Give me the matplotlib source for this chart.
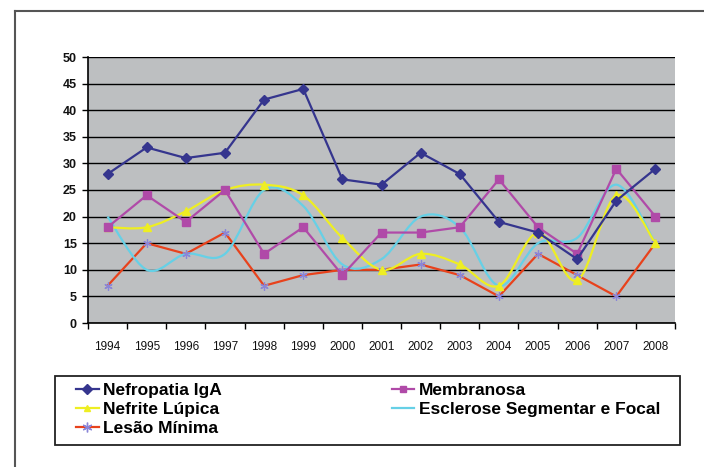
import matplotlib
matplotlib.use("Agg")
import matplotlib.pyplot as plt
from matplotlib.path import Path
from matplotlib.patches import PathPatch, Rectangle
from matplotlib.lines import Line2D
import numpy as np

plt.rcParams['font.family'] = ['Liberation Sans', 'DejaVu Sans']

years = ["1994", "1995", "1996", "1997", "1998", "1999", "2000", "2001",
         "2002", "2003", "2004", "2005", "2006", "2007", "2008"]

nefropatia_iga = [28, 33, 31, 32, 42, 44, 27, 26, 32, 28, 19, 17, 12, 23, 29]
membranosa = [18, 24, 19, 25, 13, 18, 9, 17, 17, 18, 27, 18, 13, 29, 20]
nefrite_lupica = [18, 18, 21, 25, 26, 24, 16, 10, 13, 11, 7, 17, 8, 24, 15]
esclerose_sf = [20, 10, 13, 13, 25, 22, 11, 12, 20, 18, 7, 15, 16, 26, 15]
lesao_minima = [7, 15, 13, 17, 7, 9, 10, 10, 11, 9, 5, 13, 9, 5, 15]

W, H = 704, 467
fig = plt.figure(figsize=(W / 100, H / 100), dpi=100)
fig.patch.set_facecolor("white")

ax = fig.add_axes([88 / W, 1 - 323 / H, (675 - 88) / W, (323 - 57) / H])
ax.set_facecolor("#bdbfc1")

x = np.arange(len(years))


def smooth_path(xs, ys):
    """Bezier path through the points, in the style of spreadsheet smoothed lines."""
    pts = np.column_stack([xs, ys]).astype(float)
    n = len(pts)
    verts = [pts[0]]
    codes = [Path.MOVETO]
    for i in range(n - 1):
        p0 = pts[i - 1] if i > 0 else pts[i]
        p1 = pts[i]
        p2 = pts[i + 1]
        p3 = pts[i + 2] if i + 2 < n else pts[i + 1]
        c1 = p1 + (p2 - p0) / 6.0
        c2 = p2 - (p3 - p1) / 6.0
        verts += [c1, c2, p2]
        codes += [Path.CURVE4] * 3
    return Path(verts, codes)


lw = 1.6
c_iga = "#35358e"
c_mem = "#b04aa8"
c_lup = "#eeee22"
c_esc = "#66d0e6"
c_les = "#e8421c"

# straight series
ax.plot(x, lesao_minima, color=c_les, lw=lw, zorder=3)
ax.plot(x, lesao_minima, ls="none", marker=(6, 2, 0), ms=6, mew=0.9,
        color="#8a86d8", zorder=4)

# smoothed series
ax.add_patch(PathPatch(smooth_path(x, esclerose_sf), fill=False,
                       edgecolor=c_esc, lw=lw, zorder=3))
ax.add_patch(PathPatch(smooth_path(x, nefrite_lupica), fill=False,
                       edgecolor=c_lup, lw=lw, zorder=3))
ax.plot(x, nefrite_lupica, ls="none", marker="^", ms=6, color=c_lup,
        mec=c_lup, zorder=4)

ax.plot(x, membranosa, color=c_mem, lw=lw, marker="s", ms=6, mec=c_mem,
        zorder=5)
ax.plot(x, nefropatia_iga, color=c_iga, lw=lw, marker="D", ms=5.5,
        mec=c_iga, zorder=6)

ax.set_xlim(-0.5, len(years) - 0.5)
ax.set_ylim(0, 50)
ax.set_yticks(np.arange(0, 51, 5))
ax.yaxis.grid(True, color="black", lw=1.0)
ax.set_axisbelow(True)

ax.set_xticks(np.arange(-0.5, len(years), 1.0))
ax.set_xticklabels([])
ax.set_xticks(x, minor=True)
ax.set_xticklabels(years, minor=True)
ax.tick_params(axis="x", which="major", direction="out", length=4,
               width=1.0, color="black")
ax.tick_params(axis="x", which="minor", length=0, pad=13, labelsize=8.5,
               labelcolor="#111111")
ax.tick_params(axis="y", direction="out", length=4, width=1.0,
               labelsize=9, labelcolor="#111111", pad=4)
for lab in ax.get_yticklabels():
    lab.set_fontweight("bold")

for side in ("top", "right"):
    ax.spines[side].set_visible(False)
for side in ("left", "bottom"):
    ax.spines[side].set_color("black")
    ax.spines[side].set_linewidth(1.2)

# outer chart frame
fig.add_artist(Line2D([15 / W, 1.0], [1 - 11 / H, 1 - 11 / H],
                      transform=fig.transFigure, color="#555555", lw=1.5))
fig.add_artist(Line2D([15 / W, 15 / W], [0.0, 1 - 11 / H],
                      transform=fig.transFigure, color="#555555", lw=1.5))

# legend box
fig.add_artist(Rectangle((55 / W, 1 - 445 / H), (680 - 55) / W, (445 - 376) / H,
                         transform=fig.transFigure, fill=False,
                         edgecolor="#222222", lw=1.3))

handles = [
    Line2D([], [], color=c_iga, lw=lw, marker="D", ms=5, mec=c_iga),
    Line2D([], [], color=c_lup, lw=lw, marker="^", ms=5, mec=c_lup),
    Line2D([], [], color=c_les, lw=lw, marker=(6, 2, 0), ms=7, mec="#8a86d8"),
    Line2D([], [], color=c_mem, lw=lw, marker="s", ms=5, mec=c_mem),
    Line2D([], [], color=c_esc, lw=lw),
]
labels = ["Nefropatia IgA", "Nefrite Lúpica", "Lesão Mínima",
          "Membranosa", "Esclerose Segmentar e Focal"]
fig.legend(handles, labels, ncol=2, frameon=False, loc="upper left",
           bbox_to_anchor=(76 / W, 1 - 383 / H),
           prop={"weight": "bold", "size": 12.5},
           handlelength=1.3, handletextpad=0.25, columnspacing=9.8,
           labelspacing=0.22, borderpad=0.0, borderaxespad=0.0)

fig.savefig("out.png", dpi=100, facecolor="white")
